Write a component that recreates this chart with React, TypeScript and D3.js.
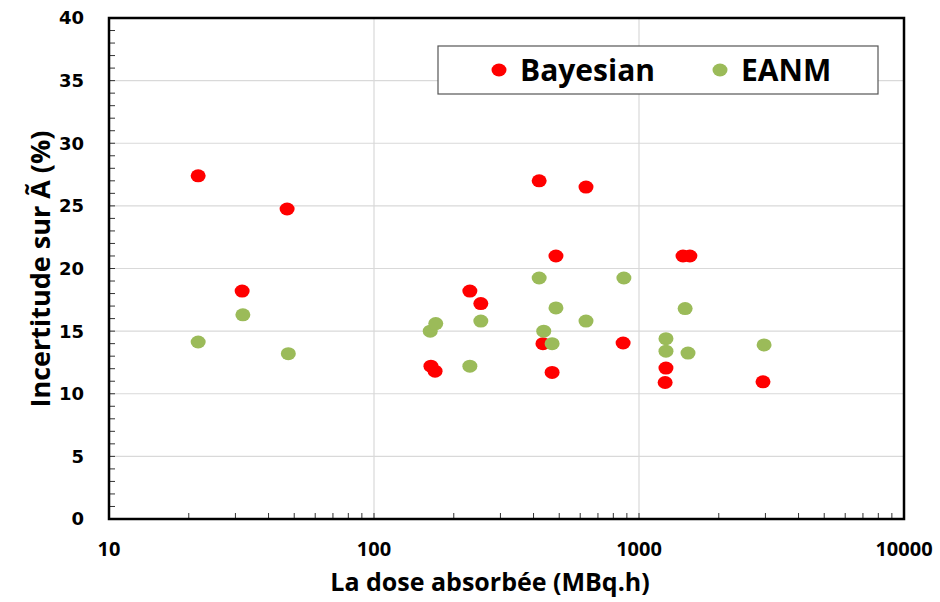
import React from "react";
import * as d3 from "d3";

// Bayesian series (dose MBq.h, uncertainty %)
const bayesDose = [21.7, 31.8, 47, 164, 170, 230, 253, 420, 631, 486, 1466, 1556, 434, 470, 871, 1264, 1255, 2937];
const bayesUnc = [27.4, 18.2, 24.75, 12.2, 11.8, 18.2, 17.2, 27.0, 26.5, 21.0, 21.0, 21.0, 14.0, 11.7, 14.05, 12.05, 10.9, 10.95];

// EANM series
const eanmDose = [21.7, 32, 47.5, 163, 171, 230, 253, 420, 877, 437, 486, 470, 631, 1264, 1264, 1493, 1531, 2965];
const eanmUnc = [14.13, 16.3, 13.2, 15.0, 15.6, 12.2, 15.8, 19.24, 19.24, 15.0, 16.85, 14.0, 15.8, 14.4, 13.4, 16.8, 13.25, 13.9];

const xTicks = [10, 100, 1000, 10000];
const yTicks = [0, 5, 10, 15, 20, 25, 30, 35, 40];

const RED = "#FF0000";
const GREEN = "#9BBB59";

export default function App() {
  const width = 940;
  const height = 602;
  const margin = { top: 18, right: 36, bottom: 83, left: 109 };
  const w = width - margin.left - margin.right;
  const h = height - margin.top - margin.bottom;

  const x = d3.scaleLog().domain([10, 10000]).range([0, w]);
  const y = d3.scaleLinear().domain([0, 40]).range([h, 0]);

  // minor ticks
  const xMinor: number[] = [];
  for (let dec = 10; dec < 10000; dec *= 10) {
    for (let k = 2; k <= 9; k++) xMinor.push(dec * k);
  }
  const yMinor = d3.range(1, 40).filter((v) => v % 5 !== 0);

  const bayes = bayesDose.map((d, i) => ({ d, u: bayesUnc[i] }));
  const eanm = eanmDose.map((d, i) => ({ d, u: eanmUnc[i] }));

  const tickFont = "'DejaVu Sans', sans-serif";
  const labelFont = "'Open Sans', sans-serif";

  return (
    <svg
      width={width}
      height={height}
      style={{ position: "absolute", left: 0, top: 0, display: "block", background: "#fff" }}
    >
      <g transform={`translate(${margin.left},${margin.top})`}>
        {/* gridlines */}
        {yTicks.slice(1, -1).map((t) => (
          <line key={"gy" + t} x1={0} x2={w} y1={y(t)} y2={y(t)} stroke="#D9D9D9" strokeWidth={1.2} />
        ))}
        {xTicks.slice(1, -1).map((t) => (
          <line key={"gx" + t} x1={x(t)} x2={x(t)} y1={0} y2={h} stroke="#D9D9D9" strokeWidth={1.2} />
        ))}

        {/* ticks (inward) */}
        {yTicks.concat(yMinor).map((t) => (
          <line key={"ty" + t} x1={0} x2={6} y1={y(t)} y2={y(t)} stroke="#333" strokeWidth={1} />
        ))}
        {xTicks.concat(xMinor).map((t) => (
          <line key={"tx" + t} x1={x(t)} x2={x(t)} y1={h} y2={h - 6} stroke="#333" strokeWidth={1} />
        ))}

        {/* points */}
        {bayes.map((p, i) => (
          <ellipse key={"b" + i} cx={x(p.d)} cy={y(p.u)} rx={7.5} ry={6.5} fill={RED} />
        ))}
        {eanm.map((p, i) => (
          <ellipse key={"e" + i} cx={x(p.d)} cy={y(p.u)} rx={7.5} ry={6.5} fill={GREEN} />
        ))}

        {/* frame */}
        <rect x={0} y={0} width={w} height={h} fill="none" stroke="#000" strokeWidth={2.5} />

        {/* y tick labels */}
        {yTicks.map((t) => (
          <text
            key={"ly" + t}
            x={-25}
            y={y(t)}
            dy="0.36em"
            textAnchor="end"
            fontFamily={tickFont}
            fontWeight={700}
            fontSize={18}
            fill="#000"
          >
            {t}
          </text>
        ))}

        {/* x tick labels */}
        {xTicks.map((t) => (
          <text
            key={"lx" + t}
            x={x(t)}
            y={h + 30}
            dy="0.36em"
            textAnchor="middle"
            fontFamily={labelFont}
            fontWeight={700}
            fontSize={20}
            fill="#000"
          >
            {t}
          </text>
        ))}

        {/* legend */}
        <g transform={`translate(${438 - margin.left},${46 - margin.top})`}>
          <rect x={0} y={0} width={440} height={48} fill="#fff" stroke="#555" strokeWidth={1.2} />
          <ellipse cx={61} cy={24} rx={7.5} ry={6.5} fill={RED} />
          <text x={82} y={24} dy="0.36em" fontFamily={labelFont} fontWeight={700} fontSize={30} fill="#000">
            Bayesian
          </text>
          <ellipse cx={282} cy={24} rx={7.5} ry={6.5} fill={GREEN} />
          <text x={303} y={24} dy="0.36em" fontFamily={labelFont} fontWeight={700} fontSize={30} fill="#000">
            EANM
          </text>
        </g>
      </g>

      {/* axis titles */}
      <text
        x={490}
        y={582}
        dy="0.36em"
        textAnchor="middle"
        fontFamily={labelFont}
        fontWeight={700}
        fontSize={25}
        fill="#000"
      >
        La dose absorbée (MBq.h)
      </text>
      <text
        transform={`translate(40,${269}) rotate(-90)`}
        textAnchor="middle"
        dy="0.36em"
        fontFamily={labelFont}
        fontWeight={700}
        fontSize={27}
        fill="#000"
      >
        Incertitude sur Ã (%)
      </text>
    </svg>
  );
}
